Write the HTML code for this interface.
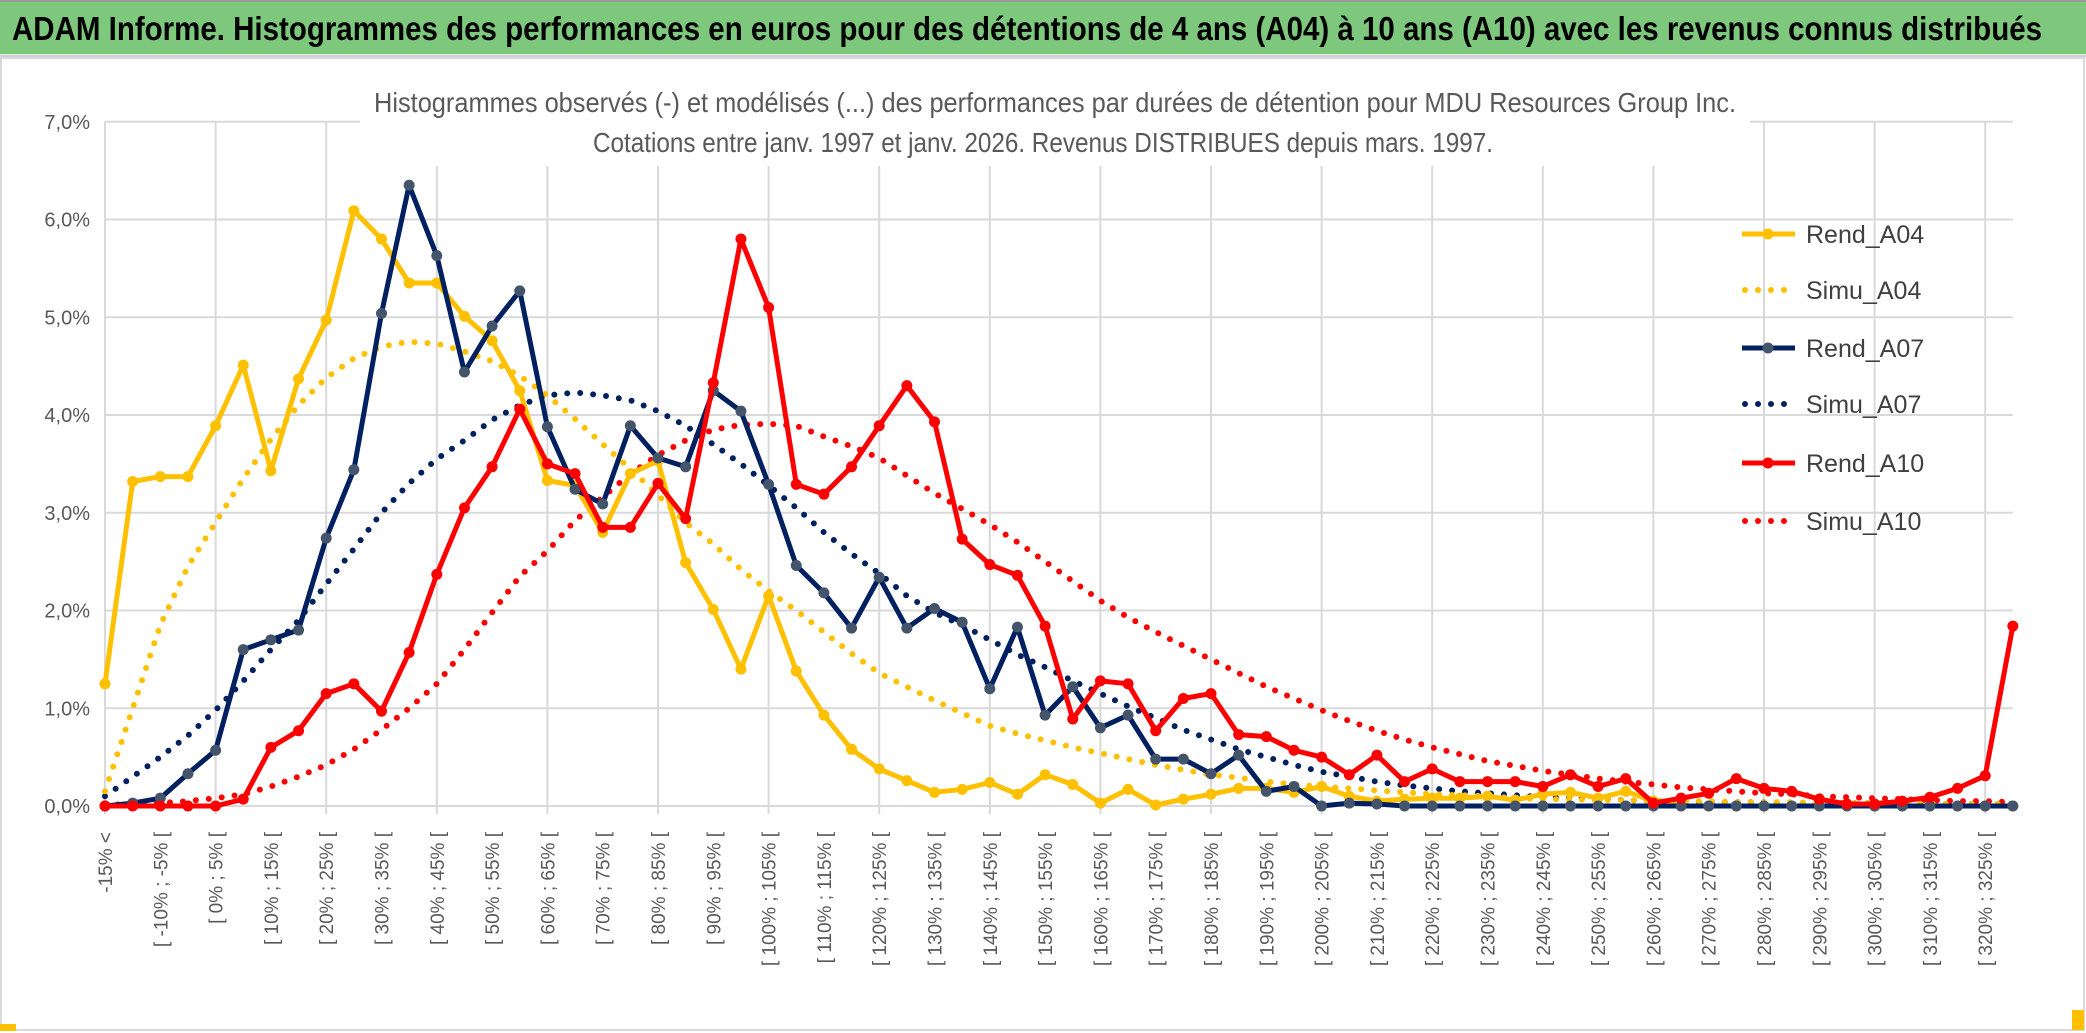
<!DOCTYPE html>
<html><head><meta charset="utf-8">
<style>
html,body{margin:0;padding:0;background:#fff;}
svg{display:block;}
text{font-family:"Liberation Sans",sans-serif;}
</style></head>
<body>
<svg id="chart" width="2086" height="1033" viewBox="0 0 2086 1033" xmlns="http://www.w3.org/2000/svg">
  <rect x="0" y="0" width="2086" height="1033" fill="#fff"/>
  <rect x="0" y="0" width="2086" height="54" fill="#7dc87d"/>
  <line x1="0" y1="1" x2="2086" y2="1" stroke="#9a9a9a" stroke-width="2"/>
  <line x1="0" y1="56" x2="2086" y2="56" stroke="#d0d0d0" stroke-width="3"/>
  <text x="12" y="40" font-size="33" font-weight="bold" fill="#000" textLength="2030" lengthAdjust="spacingAndGlyphs">ADAM Informe. Histogrammes des performances en euros pour des détentions de 4 ans (A04) à 10 ans (A10) avec les revenus connus distribués</text>
  <rect x="1" y="58" width="2083" height="972" fill="none" stroke="#d9d9d9" stroke-width="2"/>
  <rect x="0" y="1024" width="16" height="7" fill="#ffc000"/>
  <rect x="2072" y="1010" width="12" height="20" fill="#ffc000"/>
  <g id="grid"></g>
  <rect x="360" y="78" width="1390" height="88" fill="#fff"/>
  <text x="1055" y="112" font-size="28" fill="#595959" text-anchor="middle" textLength="1362" lengthAdjust="spacingAndGlyphs">Histogrammes observés (-) et modélisés (...) des performances par durées de détention pour MDU Resources Group Inc.</text>
  <text x="1043" y="152" font-size="28" fill="#595959" text-anchor="middle" textLength="900" lengthAdjust="spacingAndGlyphs">Cotations entre janv. 1997 et janv. 2026. Revenus DISTRIBUES depuis mars. 1997.</text>
  <g id="series"></g>
  <g id="axes"></g>
  <g id="legend"></g>
</svg>
<script>
const categories = ["-15% <","[ -15% ; -10% [","[ -10% ; -5% [","[ -5% ; 0% ["];
for (let p = 0; p <= 325; p += 5) categories.push("[ " + p + "% ; " + (p + 5) + "% [");
const yTicks = [0,1,2,3,4,5,6,7];
const rendA04 = [1.25,3.32,3.37,3.37,3.89,4.51,3.43,4.37,4.97,6.09,5.80,5.35,5.35,5.01,4.76,4.25,3.33,3.28,2.80,3.40,3.53,2.49,2.01,1.40,2.15,1.38,0.93,0.58,0.38,0.26,0.14,0.17,0.24,0.12,0.32,0.22,0.03,0.17,0.01,0.07,0.12,0.18,0.18,0.14,0.20,0.10,0.05,0.07,0.08,0.08,0.10,0.06,0.12,0.14,0.08,0.15,0.05,0,0,0,0,0,0,0,0,0,0,0,0,0];
const simuA04 = [0.15,1.0,1.85,2.45,2.9,3.35,3.75,4.1,4.38,4.58,4.7,4.75,4.73,4.65,4.55,4.4,4.2,3.96,3.7,3.45,3.18,2.9,2.68,2.42,2.2,2.0,1.78,1.56,1.36,1.22,1.08,0.95,0.82,0.74,0.67,0.6,0.54,0.48,0.42,0.37,0.32,0.29,0.25,0.22,0.2,0.18,0.16,0.14,0.12,0.11,0.1,0.08,0.07,0.07,0.06,0.06,0.05,0.05,0.05,0.04,0.04,0.04,0.03,0.03,0.03,0.03,0.02,0.02,0.02,0.02];
const rendA07 = [0,0.03,0.08,0.33,0.57,1.6,1.7,1.8,2.74,3.44,5.04,6.35,5.63,4.44,4.91,5.27,3.88,3.24,3.09,3.89,3.56,3.47,4.25,4.04,3.29,2.46,2.18,1.82,2.34,1.82,2.02,1.88,1.2,1.83,0.93,1.22,0.8,0.93,0.48,0.48,0.33,0.52,0.15,0.2,0.0,0.03,0.02,0,0,0,0,0,0,0,0,0,0,0,0,0,0,0,0,0,0,0,0,0,0,0];
const simuA07 = [0.1,0.3,0.5,0.72,0.98,1.28,1.6,1.9,2.27,2.63,3.0,3.3,3.55,3.74,3.95,4.1,4.2,4.23,4.2,4.15,4.04,3.89,3.7,3.5,3.28,3.05,2.8,2.58,2.38,2.15,1.98,1.85,1.7,1.55,1.42,1.28,1.15,1.02,0.9,0.78,0.68,0.58,0.5,0.42,0.35,0.3,0.25,0.21,0.18,0.15,0.13,0.11,0.09,0.08,0.07,0.06,0.05,0.05,0.04,0.04,0.04,0.03,0.03,0.03,0.03,0.02,0.02,0.02,0.02,0.02];
const rendA10 = [0,0,0,0,0,0.07,0.6,0.77,1.15,1.25,0.97,1.57,2.37,3.05,3.47,4.06,3.50,3.40,2.85,2.85,3.30,2.94,4.33,5.80,5.10,3.29,3.19,3.47,3.89,4.30,3.93,2.73,2.47,2.36,1.84,0.89,1.28,1.25,0.77,1.10,1.15,0.73,0.71,0.57,0.50,0.32,0.52,0.25,0.38,0.25,0.25,0.25,0.20,0.32,0.20,0.28,0.03,0.08,0.13,0.28,0.18,0.15,0.07,0.02,0.02,0.05,0.09,0.18,0.31,1.84];
const simuA10 = [0.01,0.02,0.03,0.05,0.08,0.12,0.2,0.3,0.42,0.58,0.78,1.0,1.25,1.6,1.98,2.35,2.61,2.92,3.16,3.4,3.59,3.74,3.85,3.9,3.91,3.89,3.78,3.68,3.56,3.38,3.2,3.04,2.88,2.7,2.5,2.3,2.1,1.93,1.78,1.64,1.5,1.36,1.22,1.1,0.98,0.87,0.77,0.68,0.6,0.53,0.46,0.41,0.36,0.32,0.28,0.25,0.22,0.19,0.17,0.15,0.13,0.12,0.1,0.09,0.08,0.07,0.06,0.05,0.05,0.04];
const seriesNames = ["Rend_A04","Simu_A04","Rend_A07","Simu_A07","Rend_A10","Simu_A10"];

const NS = "http://www.w3.org/2000/svg";
const X0 = 105, STEP = 27.65, Y0 = 806, PER = 97.75;
function xPos(i){ return X0 + i * STEP; }
function yPos(v){ return Y0 - v * PER; }
function mk(tag, attrs, parent){
  const e = document.createElementNS(NS, tag);
  for (const k in attrs) e.setAttribute(k, attrs[k]);
  parent.appendChild(e);
  return e;
}
const grid = document.getElementById('grid');
const axes = document.getElementById('axes');
const seriesG = document.getElementById('series');
const legend = document.getElementById('legend');
const xEnd = xPos(categories.length - 1);

yTicks.forEach(t => {
  const l = mk('line', {x1: X0, x2: xEnd, y1: yPos(t), y2: yPos(t), stroke: '#d9d9d9', 'stroke-width': 2}, grid);
  
  
  const tx = mk('text', {x: 90, y: yPos(t) + 7, 'font-size': 20, fill: '#595959', 'text-anchor': 'end'}, axes);
  tx.textContent = t.toFixed(1).replace('.', ',') + '%';
  
  
});
categories.forEach((c, i) => {
  if (i % 4 === 0) {
    const l = mk('line', {x1: xPos(i), x2: xPos(i), y1: yPos(7), y2: yPos(0) + 8, stroke: '#d9d9d9', 'stroke-width': 2}, grid);
    
    
  }
  if (i % 2 === 0) {
    const tx = mk('text', {x: 0, y: 0, 'font-size': 19, fill: '#595959', 'text-anchor': 'end', transform: 'translate(' + (xPos(i) + 7) + ',832) rotate(-90)'}, axes);
    tx.textContent = c;
    
    
  }
});

function drawSeries(vals, color, dotted, markerColor, name){
  const g = mk('g', {}, seriesG);
  
  
  const pts = vals.map((v, i) => xPos(i).toFixed(1) + ',' + yPos(v).toFixed(1)).join(' ');
  const attrs = {points: pts, fill: 'none', stroke: color, 'stroke-linejoin': 'round'};
  if (dotted) { attrs['stroke-width'] = 6; attrs['stroke-dasharray'] = '0 13'; attrs['stroke-linecap'] = 'round'; }
  else { attrs['stroke-width'] = 5; }
  const pl = mk('polyline', attrs, g);
  
  
  if (!dotted) {
    vals.forEach((v, i) => {
      const c = mk('circle', {cx: xPos(i), cy: yPos(v), r: 5.5, fill: markerColor}, g);
      
      
    });
  }
}
drawSeries(simuA10, '#ff0000', true, null, 'simu-a10');
drawSeries(simuA07, '#002060', true, null, 'simu-a07');
drawSeries(simuA04, '#ffc000', true, null, 'simu-a04');
drawSeries(rendA04, '#ffc000', false, '#ffc000', 'rend-a04');
drawSeries(rendA07, '#002060', false, '#44546a', 'rend-a07');
drawSeries(rendA10, '#ff0000', false, '#ff0000', 'rend-a10');

const legColors = ['#ffc000','#ffc000','#002060','#002060','#ff0000','#ff0000'];
const legMarkers = ['#ffc000',null,'#44546a',null,'#ff0000',null];
const legY = [234,290,348,404,463,521];
seriesNames.forEach((n, k) => {
  const g = mk('g', {}, legend);
  
  
  const dotted = legMarkers[k] === null;
  const la = {x1: 1742, x2: 1795, y1: legY[k], y2: legY[k], stroke: legColors[k]};
  if (dotted) { la['stroke-width'] = 6; la['stroke-dasharray'] = '0 13'; la['stroke-linecap'] = 'round'; la.x1 = 1745; }
  else la['stroke-width'] = 5;
  mk('line', la, g);
  if (!dotted) mk('circle', {cx: 1768, cy: legY[k], r: 5.5, fill: legMarkers[k]}, g);
  const t = mk('text', {x: 1806, y: legY[k] + 9, 'font-size': 25, fill: '#404040'}, g);
  t.textContent = n;
});
</script>
</body></html>
